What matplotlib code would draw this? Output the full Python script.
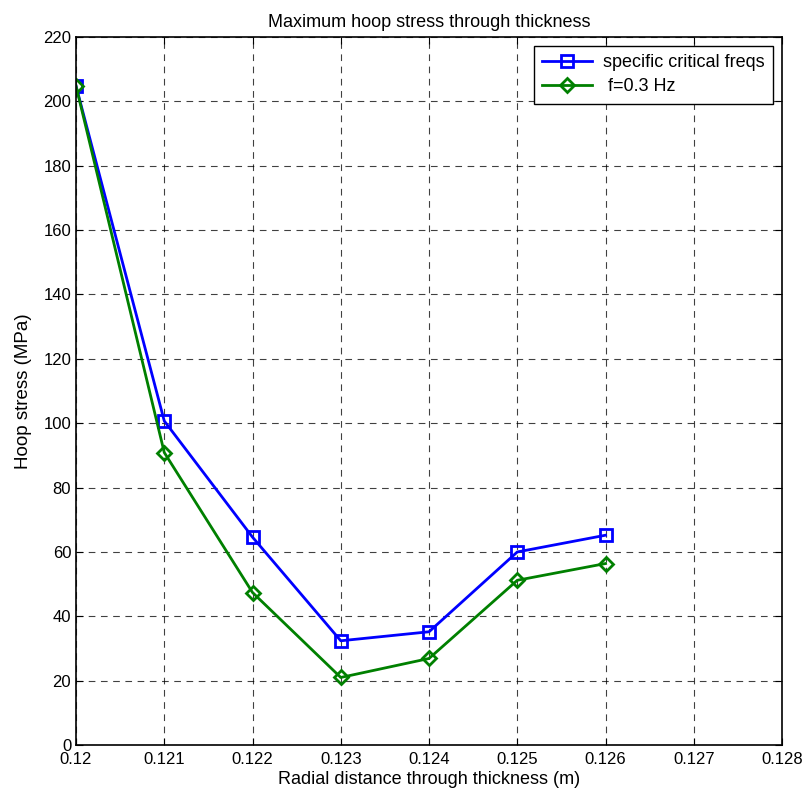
import matplotlib.pyplot as plt

plt.rcParams['font.family'] = ['Liberation Sans', 'DejaVu Sans']

radial = [0.120, 0.121, 0.122, 0.123, 0.124, 0.125, 0.126]
critical = [204.8, 100.7, 64.6, 32.4, 35.2, 60.0, 65.2]
f03 = [204.8, 90.9, 47.4, 21.0, 26.9, 51.2, 56.4]
xticks = [0.12, 0.121, 0.122, 0.123, 0.124, 0.125, 0.126, 0.127, 0.128]
yticks = list(range(0, 221, 20))

fig = plt.figure(figsize=(8.06, 7.96), dpi=100)
ax = fig.add_axes([0.0943, 0.064, 0.8760, 0.8895])

ax.plot(radial, critical, color='blue', lw=2, marker='s', ms=8.5, mfc='none', mew=2,
        label='specific critical freqs')
ax.plot(radial, f03, color='green', lw=2, marker='D', ms=7.5, mfc='none', mew=2,
        label=' f=0.3 Hz')

ax.set_xlim(0.12, 0.128)
ax.set_ylim(0, 220)
ax.set_xticks(xticks)
ax.set_xticklabels([f'{v:g}' for v in xticks])
ax.set_yticks(yticks)
ax.tick_params(direction='in', top=True, right=True, labelsize=12, length=5)
ax.tick_params(axis='x', pad=5)
ax.grid(True, color='black', linestyle=(0, (6, 5)), lw=0.8, alpha=0.75)
for s in ax.spines.values():
    s.set_linewidth(1.2)

ax.set_title('Maximum hoop stress through thickness', fontsize=13, pad=7)
ax.set_xlabel('Radial distance through thickness (m)', fontsize=13, labelpad=3)
ax.set_ylabel('Hoop stress (MPa)', fontsize=13.5, labelpad=8)

leg = ax.legend(loc='upper right', fontsize=13, fancybox=False, framealpha=1,
                edgecolor='black', borderaxespad=0.5, handlelength=2.8,
                labelspacing=0.4, borderpad=0.45, handletextpad=0.6)
leg.get_frame().set_linewidth(1)

fig.savefig('out.png', dpi=100)
